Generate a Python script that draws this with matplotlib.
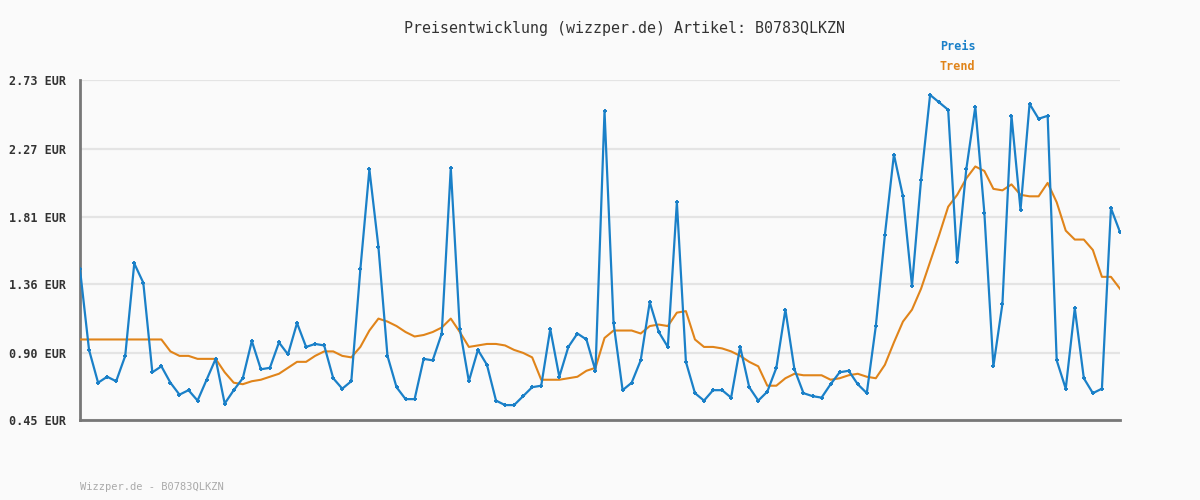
import matplotlib

matplotlib.use("Agg")
import matplotlib.pyplot as plt

preis = [
    1.46, 0.92, 0.70, 0.74, 0.71, 0.88, 1.50, 1.37, 0.77, 0.81,
    0.70, 0.62, 0.65, 0.58, 0.72, 0.86, 0.56, 0.65, 0.73, 0.98,
    0.79, 0.80, 0.97, 0.89, 1.10, 0.94, 0.96, 0.95, 0.73, 0.66,
    0.71, 1.46, 2.13, 1.61, 0.88, 0.67, 0.59, 0.59, 0.86, 0.85,
    1.03, 2.14, 1.06, 0.71, 0.92, 0.82, 0.58, 0.55, 0.55, 0.61,
    0.67, 0.68, 1.06, 0.74, 0.94, 1.03, 0.99, 0.78, 2.52, 1.10,
    0.65, 0.70, 0.85, 1.24, 1.04, 0.94, 1.91, 0.84, 0.63, 0.58,
    0.65, 0.65, 0.60, 0.94, 0.67, 0.58, 0.64, 0.80, 1.19, 0.79,
    0.63, 0.61, 0.60, 0.69, 0.77, 0.78, 0.69, 0.63, 1.08, 1.69,
    2.23, 1.95, 1.35, 2.06, 2.63, 2.58, 2.53, 1.51, 2.13, 2.55,
    1.84, 0.81, 1.23, 2.49, 1.86, 2.57, 2.47, 2.49, 0.85, 0.66,
    1.20, 0.73, 0.63, 0.66, 1.87, 1.71,
]

# Trend (orange)
trend = [
    0.99, 0.99, 0.99, 0.99, 0.99, 0.99, 0.99, 0.99, 0.99, 0.99,
    0.91, 0.88, 0.88, 0.86, 0.86, 0.86, 0.77, 0.70, 0.69, 0.71,
    0.72, 0.74, 0.76, 0.80, 0.84, 0.84, 0.88, 0.91, 0.91, 0.88,
    0.87, 0.94, 1.05, 1.13, 1.11, 1.08, 1.04, 1.01, 1.02, 1.04,
    1.07, 1.13, 1.04, 0.94, 0.95, 0.96, 0.96, 0.95, 0.92, 0.90,
    0.87, 0.72, 0.72, 0.72, 0.73, 0.74, 0.78, 0.80, 1.00, 1.05,
    1.05, 1.05, 1.03, 1.08, 1.09, 1.08, 1.17, 1.18, 0.99, 0.94,
    0.94, 0.93, 0.91, 0.88, 0.84, 0.81, 0.68, 0.68, 0.73, 0.76,
    0.75, 0.75, 0.75, 0.72, 0.73, 0.75, 0.76, 0.74, 0.73, 0.82,
    0.97, 1.11, 1.19, 1.33, 1.51, 1.69, 1.88, 1.96, 2.07, 2.15,
    2.12, 2.00, 1.99, 2.03, 1.96, 1.95, 1.95, 2.04, 1.91, 1.72,
    1.66, 1.66, 1.59, 1.41, 1.41, 1.33,
]

y_ticks = [0.45, 0.90, 1.36, 1.81, 2.27, 2.73]
y_labels = ["0.45 EUR", "0.90 EUR", "1.36 EUR", "1.81 EUR", "2.27 EUR", "2.73 EUR"]
artikel = "B0783QLKZN"

BG = "#fafafa"
BLAU = "#1a80c8"
ORANGE = "#e0841a"
MONO = "DejaVu Sans Mono"

fig = plt.figure(figsize=(12, 5), dpi=100, facecolor=BG)
ax = fig.add_axes([80 / 1200, 0.16, 1040 / 1200, 0.68], facecolor=BG)

x = list(range(len(preis)))
ax.plot(x, trend, color=ORANGE, lw=1.5, zorder=3)
ax.plot(x, preis, color=BLAU, lw=1.6, marker="+", ms=3.5, mew=1.4, zorder=4)

ax.set_xlim(0, len(preis) - 1)
ax.set_ylim(y_ticks[0], y_ticks[-1])
ax.set_yticks(y_ticks)
ax.set_yticklabels(y_labels, family=MONO, fontsize=8.5, fontweight="bold", color="#333333")
ax.tick_params(axis="y", length=0, pad=10)
ax.set_xticks([])
ax.grid(True, axis="y", color="#e4e4e4", lw=1.6, zorder=0)

for side in ["top", "right"]:
    ax.spines[side].set_visible(False)
for side in ["left", "bottom"]:
    ax.spines[side].set_color("#777777")
    ax.spines[side].set_linewidth(2)

fig.text(624 / 1200, 1 - 28 / 500, f"Preisentwicklung (wizzper.de) Artikel: {artikel}",
         ha="center", va="center", family=MONO, fontsize=10.8, color="#333333")
fig.text(940 / 1200, 1 - 47 / 500, "Preis", ha="left", va="center",
         family=MONO, fontsize=8.5, fontweight="bold", color=BLAU)
fig.text(940 / 1200, 1 - 67 / 500, "Trend", ha="left", va="center",
         family=MONO, fontsize=8.5, fontweight="bold", color=ORANGE)
fig.text(80 / 1200, 1 - 487 / 500, f"Wizzper.de - {artikel}", ha="left", va="center",
         family=MONO, fontsize=7.5, color="#aaaaaa")

fig.savefig("out.png", dpi=100, facecolor=BG)
